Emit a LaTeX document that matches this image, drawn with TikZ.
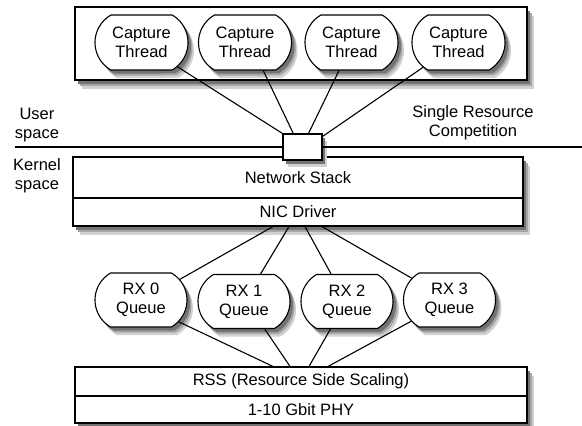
\documentclass[tikz,border=0pt]{standalone}
\usepackage{fontspec}
\setmainfont{Liberation Sans}
\usetikzlibrary{shapes.misc,calc}

\begin{document}
\begin{tikzpicture}[x=1pt,y=-1pt,line width=1.1pt,
            font=\fontsize{16.5}{19}\selectfont,
            shadefar/.style={fill=black!18,draw=none},
            shademid/.style={fill=black!35,draw=none},
            shadenear/.style={fill=black!55,draw=none},
            layer/.style={draw,fill=white,rectangle,inner sep=0pt,minimum width=452pt},
            pill/.style={draw,fill=white,rounded rectangle,rounded rectangle arc length=120,
              minimum width=93pt,minimum height=55pt,inner sep=0pt,align=center}]
            \useasboundingbox (0,0) rectangle (582,426);
            % user space
            \fill[shadefar] (82,16) rectangle (534,89);
            \fill[shademid] (80,13) rectangle (532,86);
            \fill[shadenear] (78,11) rectangle (530,84);
            \node[layer,minimum height=73pt] (user) at (301,43.5) {};
            \foreach \x in {141.5,245,351.5,458.5} {
              \node[pill,shadefar] at (\x+6,50.5) {};
              \node[pill,shademid] at (\x+4.5,48) {};
              \node[pill,shadenear] at (\x+3,46) {};
            }
            \node[pill] (t1) at (141.5,42.5) {Capture\\Thread};
            \node[pill] (t2) at (245,42.5) {Capture\\Thread};
            \node[pill] (t3) at (351.5,42.5) {Capture\\Thread};
            \node[pill] (t4) at (458.5,42.5) {Capture\\Thread};
            \node[align=center] (us) at (37,125) {User\\space};
            \node[align=center] (ks) at (37,176) {Kernel\\space};
            \node[align=center] (src) at (473,123) {Single Resource\\Competition};
            % kernel
            \fill[shadefar] (80,166) rectangle (530,235);
            \fill[shademid] (78,163) rectangle (528,232);
            \fill[shadenear] (76,161) rectangle (526,230);
            \node[layer,minimum width=450pt,minimum height=41pt] (stack) at (298,177.5) {Network Stack};
            \node[layer,minimum width=450pt,minimum height=28pt] (nic) at (298,212) {NIC Driver};
            \fill[shadefar] (288,141) rectangle (327,167);
            \fill[shadenear] (286,138) rectangle (325,164);
            \node[draw,fill=white,minimum width=39pt,minimum height=26pt,inner sep=0pt] (sb) at (302.5,147) {};
            \coordinate (ul) at (15,147);
            \coordinate (ur) at (582,147);
            \draw (ul) -- (sb.west);
            \draw (sb.east) -- (ur);
            \draw (t1.-34) -- (sb.north west);
            \draw (t2.-57) -- ($(sb.north west)!0.27!(sb.north east)$);
            \draw (t3.-114) -- ($(sb.north west)!0.65!(sb.north east)$);
            \draw (t4.-145) -- ($(sb.north east)+(0,3)$);
            % queues
            \foreach \x/\y in {141/300,244/301.5,347/301.5,449.5/300} {
              \node[pill,shadefar,minimum width=92pt,minimum height=54pt] at (\x+6,\y+8) {};
              \node[pill,shademid,minimum width=92pt,minimum height=54pt] at (\x+4.5,\y+5.5) {};
              \node[pill,shadenear,minimum width=92pt,minimum height=54pt] at (\x+3,\y+3.5) {};
            }
            \node[pill,minimum width=92pt,minimum height=54pt] (q0) at (141,300) {RX 0\\Queue};
            \node[pill,minimum width=92pt,minimum height=54pt] (q1) at (244,301.5) {RX 1\\Queue};
            \node[pill,minimum width=92pt,minimum height=54pt] (q2) at (347,301.5) {RX 2\\Queue};
            \node[pill,minimum width=92pt,minimum height=54pt] (q3) at (449.5,300) {RX 3\\Queue};
            \fill[shadefar] (82,376) rectangle (534,432);
            \fill[shademid] (80,373) rectangle (532,429);
            \fill[shadenear] (78,371) rectangle (530,427);
            \node[layer,minimum height=29pt] (rss) at (301,381.5) {RSS (Resource Side Scaling)};
            \node[layer,minimum height=27pt] (phy) at (301,409.5) {1-10 Gbit PHY};
            \draw ($(nic.south)+(-25,0)$) -- (q0.28);
            \draw ($(nic.south)+(-9,0)$) -- (q1.59);
            \draw ($(nic.south)+(7,0)$) -- (q2.120);
            \draw ($(nic.south)+(24,0)$) -- (q3.150);
            \draw (q0.-30) -- ($(rss.north)+(-28,0)$);
            \draw (q1.-53) -- ($(rss.north)+(-11,0)$);
            \draw (q2.-121) -- ($(rss.north)+(8,0)$);
            \draw (q3.-151) -- ($(rss.north)+(27,0)$);
        \end{tikzpicture}
\end{document}
